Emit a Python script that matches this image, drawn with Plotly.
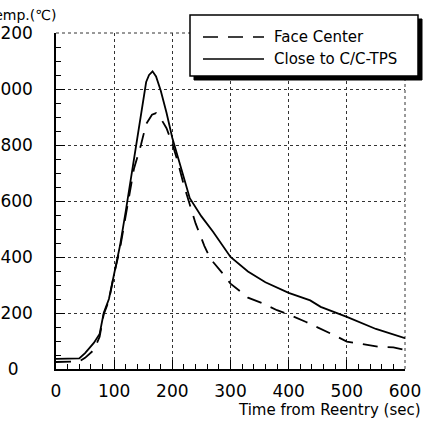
import plotly.graph_objects as go

# ---- data ----
t_close = [0, 20, 40, 50, 65, 75, 82, 91, 100, 110, 120, 130, 140, 150, 155, 160, 166, 172, 180,
           190, 200, 214, 230, 250, 270, 300, 330, 360, 400, 437, 455, 500, 550, 600]
y_close = [36, 36, 38, 57, 93, 125, 200, 250, 345, 440, 565, 700, 820, 960, 1025, 1050, 1063, 1045, 995,
           915, 825, 725, 610, 545, 490, 400, 348, 310, 272, 245, 222, 186, 143, 110]

t_face = [0, 20, 40, 50, 65, 75, 82, 91, 100, 110, 120, 134, 146, 155, 165, 172, 180, 190, 200,
          210, 220, 240, 255, 265, 285, 300, 330, 355, 380, 403, 430, 455, 478, 500, 526, 555, 580, 600]
y_face = [25, 25, 27, 40, 68, 115, 195, 245, 340, 430, 550, 715, 800, 875, 908, 914, 895, 860, 805,
          735, 655, 520, 440, 395, 345, 305, 255, 235, 210, 192, 168, 145, 121, 98, 88, 79, 77, 68]

x_ticks = [0, 100, 200, 300, 400, 500, 600]
y_ticks = [0, 200, 400, 600, 800, 1000, 1200]
y_ticktext = ["0\u2007\u2009", "200", "400", "600", "800", "1000", "1200"]
names = ["Face Center", "Close to C/C-TPS"]

# ---- layout geometry (pixels) ----
WIDTH, HEIGHT = 428, 427
L, R, T, B = 56, 405, 33, 369
PW, PH = R - L, B - T


def px(p):
    return (p - L) / PW


def py(p):
    return (B - p) / PH


FONT = "DejaVu Sans"

fig = go.Figure()
fig.add_trace(go.Scatter(x=t_face, y=y_face, mode="lines", name=names[0],
                         line=dict(color="black", width=1.8, dash="15px,10px"),
                         showlegend=False))
fig.add_trace(go.Scatter(x=t_close, y=y_close, mode="lines", name=names[1],
                         line=dict(color="black", width=1.8),
                         showlegend=False))

axis_common = dict(
    showline=True, linecolor="black", linewidth=1.5, automargin=False,
    ticks="inside", tickcolor="black", tickwidth=1.2, ticklen=9,
    showgrid=True, gridcolor="#333", gridwidth=1, griddash="dot",
    zeroline=False, tickfont=dict(family=FONT, size=17, color="black"),
)

fig.update_xaxes(range=[0, 600], tickvals=x_ticks, ticktext=[str(v) for v in x_ticks],
                 minor=dict(ticks="inside", dtick=20, ticklen=5, tickcolor="black", tickwidth=1.2,
                            showgrid=False),
                 ticklabelstandoff=6, **axis_common)
fig.update_yaxes(range=[0, 1200], tickvals=y_ticks, ticktext=y_ticktext,
                 minor=dict(ticks="inside", dtick=50, ticklen=5, tickcolor="black", tickwidth=1.2,
                            showgrid=False),
                 ticklabelstandoff=18, **axis_common)

shapes = []
# dotted frame at top and right (gridline look)
shapes.append(dict(type="line", xref="paper", yref="paper", x0=0, x1=1, y0=1, y1=1,
                   line=dict(color="#333", width=1, dash="dot"), layer="below"))
shapes.append(dict(type="line", xref="paper", yref="paper", x0=1, x1=1, y0=0, y1=1,
                   line=dict(color="#333", width=1, dash="dot"), layer="below"))

# legend box with drop shadow
lx0, lx1, ly0, ly1 = 190, 418, 15, 76
sh = 4
shapes.append(dict(type="rect", xref="paper", yref="paper",
                   x0=px(lx0 + sh), x1=px(lx1 + sh), y0=py(ly1 + sh), y1=py(ly0 + sh),
                   fillcolor="black", line=dict(color="black", width=1), layer="above"))
shapes.append(dict(type="rect", xref="paper", yref="paper",
                   x0=px(lx0), x1=px(lx1), y0=py(ly1), y1=py(ly0),
                   fillcolor="white", line=dict(color="black", width=1.5), layer="above"))
# legend samples
shapes.append(dict(type="line", xref="paper", yref="paper",
                   x0=px(203), x1=px(264), y0=py(37), y1=py(37),
                   line=dict(color="black", width=1.5, dash="15px,10px"), layer="above"))
shapes.append(dict(type="line", xref="paper", yref="paper",
                   x0=px(203), x1=px(264), y0=py(59), y1=py(59),
                   line=dict(color="black", width=1.5), layer="above"))
fig.update_layout(shapes=shapes)

annotations = [
    dict(text=names[0], xref="paper", yref="paper", x=px(272), y=py(37),
         xanchor="left", yanchor="middle", showarrow=False,
         font=dict(family=FONT, size=15, color="black")),
    dict(text=names[1], xref="paper", yref="paper", x=px(272), y=py(59),
         xanchor="left", yanchor="middle", showarrow=False,
         font=dict(family=FONT, size=15, color="black")),
    dict(text="Temp.(℃)", xref="paper", yref="paper", x=px(58), y=py(15),
         xanchor="right", yanchor="middle", showarrow=False,
         font=dict(family=FONT, size=14, color="black")),
    dict(text="Time from Reentry (sec)", xref="paper", yref="paper", x=px(423), y=py(410),
         xanchor="right", yanchor="middle", showarrow=False,
         font=dict(family=FONT, size=15, color="black")),
]
fig.update_layout(annotations=annotations)

fig.update_layout(
    width=WIDTH, height=HEIGHT,
    margin=dict(l=L, r=WIDTH - R, t=T, b=HEIGHT - B, pad=0, autoexpand=False),
    paper_bgcolor="white", plot_bgcolor="white",
    showlegend=False,
)

fig.write_html("out.html")
